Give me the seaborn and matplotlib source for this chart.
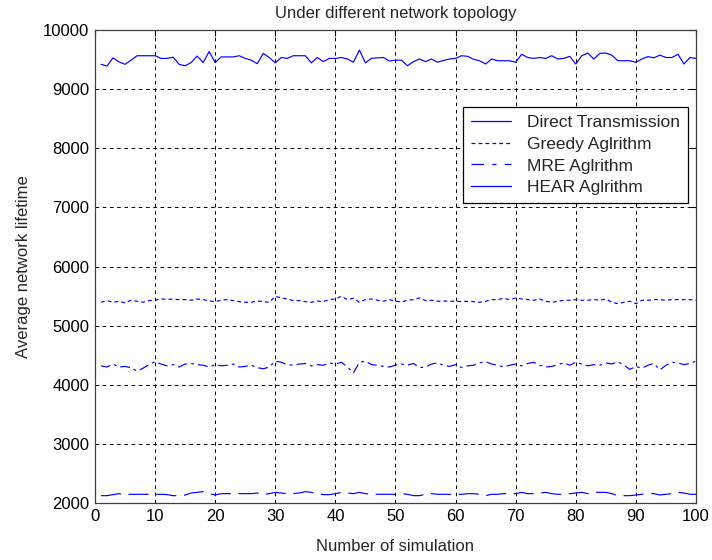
import numpy as np
import pandas as pd
import matplotlib
matplotlib.use("Agg")
import matplotlib.pyplot as plt
from matplotlib.lines import Line2D
import seaborn as sns

# Simulation index and average lifetime per algorithm
simulations = list(range(1, 101))

direct_transmission = [
    2124, 2124, 2141, 2158, 2141, 2147, 2147, 2147, 2147, 2147,
    2147, 2141, 2124, 2124, 2135, 2169, 2180, 2192, 2158, 2135,
    2158, 2158, 2158, 2158, 2158, 2158, 2169, 2141, 2158, 2180,
    2169, 2158, 2158, 2169, 2192, 2180, 2158, 2141, 2141, 2158,
    2180, 2169, 2158, 2180, 2158, 2147, 2147, 2147, 2147, 2147,
    2158, 2147, 2124, 2124, 2147, 2158, 2147, 2147, 2147, 2147,
    2147, 2158, 2158, 2147, 2124, 2147, 2147, 2158, 2158, 2158,
    2180, 2158, 2158, 2169, 2180, 2158, 2147, 2147, 2158, 2169,
    2180, 2158, 2180, 2180, 2180, 2158, 2124, 2124, 2124, 2135,
    2147, 2158, 2158, 2135, 2147, 2158, 2180, 2169, 2147, 2147,
]

greedy = [
    5395, 5423, 5395, 5412, 5384, 5429, 5412, 5395, 5423, 5429,
    5451, 5446, 5446, 5440, 5440, 5429, 5451, 5440, 5417, 5406,
    5429, 5440, 5423, 5406, 5395, 5395, 5417, 5406, 5395, 5496,
    5468, 5451, 5423, 5423, 5406, 5395, 5417, 5406, 5440, 5451,
    5496, 5440, 5462, 5395, 5440, 5451, 5429, 5412, 5440, 5412,
    5401, 5429, 5440, 5468, 5423, 5429, 5412, 5417, 5412, 5412,
    5406, 5412, 5406, 5395, 5412, 5440, 5440, 5462, 5440, 5468,
    5451, 5440, 5429, 5451, 5412, 5395, 5412, 5429, 5429, 5440,
    5429, 5429, 5440, 5429, 5451, 5395, 5372, 5395, 5412, 5372,
    5429, 5429, 5440, 5440, 5429, 5440, 5440, 5440, 5440, 5429,
]

mre = [
    4320, 4300, 4350, 4300, 4310, 4290, 4230, 4280, 4340, 4390,
    4350, 4320, 4340, 4300, 4350, 4360, 4340, 4330, 4300, 4340,
    4320, 4330, 4350, 4300, 4310, 4330, 4290, 4270, 4300, 4400,
    4380, 4340, 4330, 4350, 4360, 4320, 4340, 4330, 4370, 4350,
    4380, 4300, 4200, 4380, 4400, 4340, 4330, 4310, 4300, 4330,
    4350, 4330, 4360, 4290, 4300, 4350, 4370, 4330, 4310, 4340,
    4290, 4320, 4330, 4370, 4390, 4350, 4330, 4300, 4330, 4350,
    4320, 4360, 4380, 4330, 4300, 4310, 4340, 4370, 4330, 4380,
    4350, 4320, 4340, 4330, 4370, 4350, 4390, 4330, 4260, 4310,
    4280, 4330, 4360, 4250, 4330, 4380, 4370, 4340, 4360, 4400,
]

hear = [
    9420, 9390, 9530, 9460, 9420, 9490, 9565, 9565, 9565, 9565,
    9520, 9520, 9540, 9420, 9395, 9450, 9560, 9450, 9635, 9450,
    9545, 9545, 9545, 9565, 9520, 9490, 9430, 9605, 9535, 9445,
    9535, 9520, 9565, 9565, 9565, 9445, 9535, 9465, 9520, 9520,
    9535, 9510, 9455, 9660, 9445, 9520, 9530, 9535, 9475, 9490,
    9490, 9395, 9465, 9510, 9465, 9510, 9455, 9485, 9510, 9520,
    9565, 9555, 9505, 9480, 9425, 9510, 9480, 9480, 9480, 9455,
    9590, 9535, 9520, 9535, 9520, 9565, 9510, 9520, 9555, 9425,
    9565, 9610, 9510, 9605, 9610, 9575, 9480, 9480, 9480, 9455,
    9510, 9550, 9530, 9575, 9535, 9535, 9590, 9425, 9535, 9520,
]

series_names = ["Direct Transmission", "Greedy Aglrithm", "MRE Aglrithm", "HEAR Aglrithm"]
x_ticks = list(range(0, 101, 10))
y_ticks = list(range(2000, 10001, 1000))

sns.set_theme(style="white")
plt.rcParams["font.family"] = ["Liberation Sans", "DejaVu Sans"]
plt.rcParams["lines.scale_dashes"] = False

FS = 12

df = pd.DataFrame({
    "sim": simulations * 4,
    "value": direct_transmission + greedy + mre + hear,
    "series": sum([[n] * len(simulations) for n in series_names], []),
})

fig = plt.figure(figsize=(7.12, 5.6), dpi=100)
ax = fig.add_axes([0.1334, 0.1018, 0.8441, 0.8446])

blue = "#0000ff"
plot_styles = {
    "Direct Transmission": (0, (14.5, 5.5)),
    "Greedy Aglrithm": (0, (2.8, 2.2)),
    "MRE Aglrithm": (0, (7.0, 3.0, 2.0, 3.0)),
    "HEAR Aglrithm": "-",
}
legend_styles = {
    "Direct Transmission": "-",
    "Greedy Aglrithm": (0, (2.8, 2.2)),
    "MRE Aglrithm": (0, (9.0, 6.0, 3.0, 6.0)),
    "HEAR Aglrithm": "-",
}

for name in series_names:
    sub = df[df["series"] == name]
    sns.lineplot(data=sub, x="sim", y="value", ax=ax, color=blue,
                 linewidth=0.85, linestyle=plot_styles[name], legend=False)

ax.set_xlim(0, 100)
ax.set_ylim(2000, 10000)
ax.set_xticks(x_ticks)
ax.set_yticks(y_ticks)
ax.grid(True, color="black", linewidth=0.7, linestyle=(0, (2.6, 2.6)))
ax.tick_params(direction="in", top=True, right=True, length=4, width=0.8,
               labelsize=FS, colors="black", pad=4)
for s in ax.spines.values():
    s.set_color("#404040")
    s.set_linewidth(0.9)

ax.set_xlabel("Number of simulation", fontsize=FS, labelpad=11)
ax.set_ylabel("Average network lifetime", fontsize=FS, labelpad=9)
ax.set_title("Under different network topology", fontsize=FS, pad=9)

handles = [Line2D([0], [0], color=blue, linewidth=0.9, linestyle=legend_styles[n])
           for n in series_names]
leg = ax.legend(handles, series_names, loc="upper right",
                bbox_to_anchor=(0.9867, 0.837), fontsize=12.5, frameon=True,
                fancybox=False, framealpha=1, edgecolor="black",
                handlelength=2.3, handletextpad=0.95, labelspacing=0.38,
                borderpad=0.45, borderaxespad=0)
leg.get_frame().set_linewidth(0.9)

fig.savefig("out.png", dpi=100)
